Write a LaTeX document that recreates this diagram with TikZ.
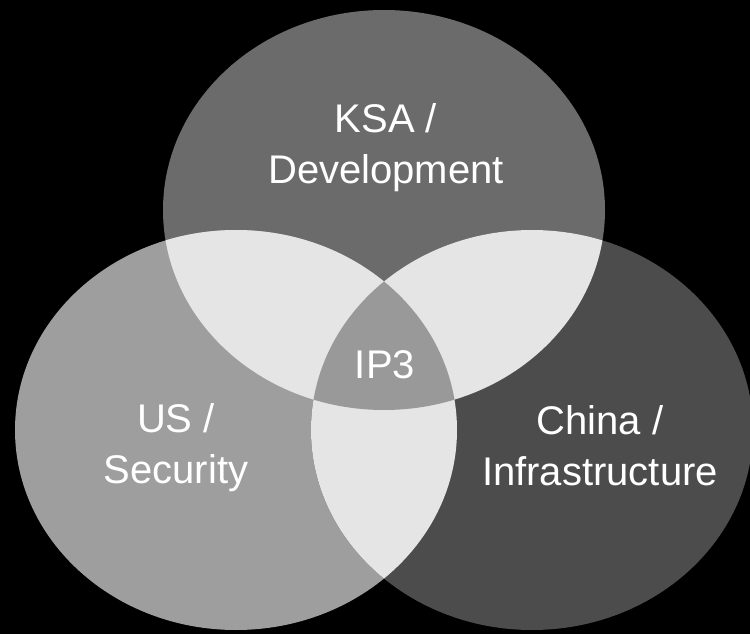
\documentclass[tikz,border=0pt]{standalone}
\usepackage{fontspec}
\setmainfont{Liberation Sans}
\usetikzlibrary{positioning}
\definecolor{ksagray}{gray}{0.42}
\definecolor{usgray}{gray}{0.62}
\definecolor{chinagray}{gray}{0.30}
\definecolor{lensgray}{gray}{0.90}
\definecolor{coregray}{gray}{0.60}
\tikzset{venn label/.style={text=white, font=\fontsize{40}{51}\selectfont, align=center, inner sep=0pt, anchor=north},
  set shape/.style={x radius=221pt, y radius=200pt}}

\begin{document}
\begin{tikzpicture}[x=1pt,y=-1pt]
	\fill[black] (0,0) rectangle (750,634);
	\useasboundingbox (0,0) rectangle (750,634);

	\coordinate (ksac) at (384,210);
	\coordinate (usc) at (236,430);
	\coordinate (chinac) at (532,430);

	\fill[ksagray] (ksac) ellipse [set shape];
	\fill[usgray] (usc) ellipse [set shape];
	\fill[chinagray] (chinac) ellipse [set shape];

	% pairwise overlaps
	\foreach \a/\b in {ksac/usc, ksac/chinac, usc/chinac}{
		\begin{scope}
			\clip (\a) ellipse [set shape];
			\fill[lensgray] (\b) ellipse [set shape];
		\end{scope}
	}

	% all three
	\begin{scope}
		\clip (ksac) ellipse [set shape];
		\clip (usc) ellipse [set shape];
		\fill[coregray] (chinac) ellipse [set shape];
	\end{scope}

	\node[venn label] (ksa) at (386,103) {KSA /\\Development};
	\node[venn label] (us) at (176,403) {US /\\Security};
	\node[venn label] (china) at (600,405) {China /\\Infrastructure};
	\node[venn label] (ipthree) at (385,350) {IP3};
\end{tikzpicture}
\end{document}
